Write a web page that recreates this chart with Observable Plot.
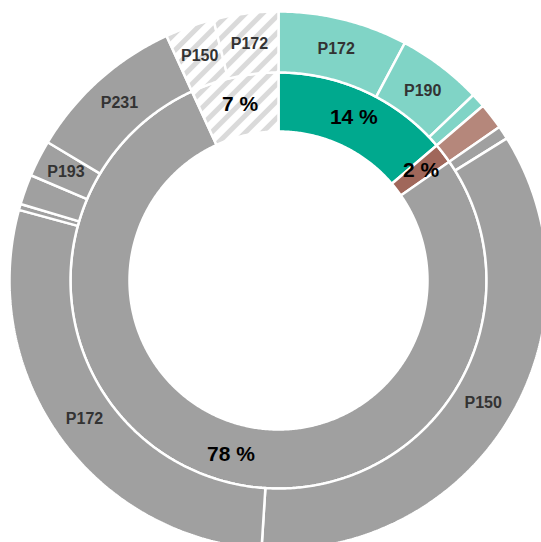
<!DOCTYPE html>
<html>
<head>
<meta charset="utf-8">
<script src="https://cdn.jsdelivr.net/npm/d3@7"></script>
<script src="https://cdn.jsdelivr.net/npm/@observablehq/plot@0.6"></script>
<style>
  html, body { margin: 0; padding: 0; background: #fff; }
  svg { display: block; }
</style>
</head>
<body>
<script>
// ---- data (percent of total) ----
const innerKeys = ["A", "B", "C", "D"];
const innerValues = [13.75, 1.58, 77.83, 6.83];

const outerGroups = ["A", "A", "A", "B", "C", "C", "C", "C", "C", "C", "C", "D", "D"];
const outerLabels = ["P172", "P190", "", "", "", "P150", "P172", "", "", "P193", "P231", "P150", "P172"];
const outerValues = [7.78, 5.11, 0.86, 1.58, 0.81, 34.86, 28.22, 0.36, 1.81, 2.19, 9.58, 2.94, 3.89];

// ---- styles ----
const innerColors = {A: "#00a98e", B: "#a0675a", C: "#a0a0a0", D: "url(#hatch)"};
const outerColors = {A: "#80d4c6", B: "#b5877b", C: "#a0a0a0", D: "url(#hatch)"};
const R_HOLE = 149, R_MID = 208, R_OUT = 269;
const CX = 278, CY = 280, W = 541, H = 542;

const total = d3.sum(innerValues);

function segments(values, keys, labels) {
  let acc = 0;
  return values.map((v, i) => {
    const a0 = acc / total * 360;
    acc += v;
    const a1 = acc / total * 360;
    return {id: i, key: keys[i], label: labels ? labels[i] : null, value: v, a0, a1};
  });
}

function polygon(seg, r0, r1, prefix, colors) {
  const pts = [];
  const n = Math.max(2, Math.ceil((seg.a1 - seg.a0) / 0.5));
  for (let k = 0; k <= n; k++) {
    const a = (seg.a0 + (seg.a1 - seg.a0) * k / n) * Math.PI / 180;
    pts.push({x: r1 * Math.sin(a), y: r1 * Math.cos(a)});
  }
  for (let k = n; k >= 0; k--) {
    const a = (seg.a0 + (seg.a1 - seg.a0) * k / n) * Math.PI / 180;
    pts.push({x: r0 * Math.sin(a), y: r0 * Math.cos(a)});
  }
  return pts.map(p => ({...p, id: prefix + seg.id, fill: colors[seg.key]}));
}

const innerSegs = segments(innerValues, innerKeys, null);
const outerSegs = segments(outerValues, outerGroups, outerLabels);

const polys = [
  ...innerSegs.flatMap(s => polygon(s, R_HOLE, R_MID, "i", innerColors)),
  ...outerSegs.flatMap(s => polygon(s, R_MID, R_OUT, "o", outerColors))
];

function mid(seg, r) {
  const a = (seg.a0 + seg.a1) / 2 * Math.PI / 180;
  return {x: r * Math.sin(a), y: r * Math.cos(a)};
}

const innerText = innerSegs.map(s => ({...mid(s, 180), text: Math.round(s.value) + " %"}));
const outerText = outerSegs.filter(s => s.label).map(s => ({...mid(s, 238.5), text: s.label}));

const chart = Plot.plot({
  width: W,
  height: H,
  margin: 0,
  x: {domain: [-CX, W - CX], range: [0, W], axis: null},
  y: {domain: [CY, CY - H], range: [0, H], axis: null},
  color: {type: "identity"},
  marks: [
    Plot.line(polys, {
      x: "x", y: "y", z: "id", fill: "fill",
      stroke: "white", strokeWidth: 2.5, strokeLinejoin: "miter",
      curve: "linear-closed"
    }),
    Plot.text(outerText, {
      x: "x", y: "y", text: "text",
      fontSize: 16, fontWeight: "bold", fill: "#333333",
      fontFamily: "Liberation Sans, Arial, sans-serif"
    }),
    Plot.text(innerText, {
      x: "x", y: "y", text: "text",
      fontSize: 21, fontWeight: "bold", fill: "#000000",
      fontFamily: "Liberation Sans, Arial, sans-serif"
    })
  ]
});

// hatch pattern definition
const ns = "http://www.w3.org/2000/svg";
const defs = document.createElementNS(ns, "defs");
defs.innerHTML = `<pattern id="hatch" patternUnits="userSpaceOnUse" width="12" height="12" patternTransform="rotate(45)">
  <rect x="0" y="0" width="12" height="12" fill="#ffffff"></rect>
  <rect x="0" y="0" width="5" height="12" fill="#dadada"></rect>
</pattern>`;
chart.insertBefore(defs, chart.firstChild);

document.body.appendChild(chart);
</script>
</body>
</html>
